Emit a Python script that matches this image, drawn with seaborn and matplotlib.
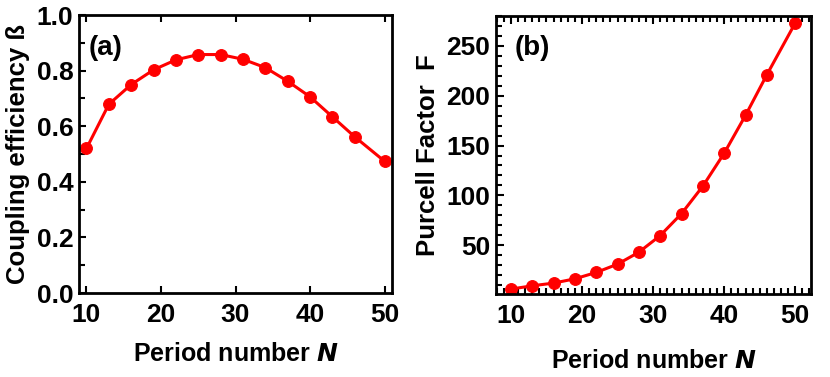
import numpy as np
import pandas as pd
import seaborn as sns
import matplotlib.pyplot as plt
from matplotlib.ticker import MultipleLocator

sns.set_style('ticks')
plt.rcParams['font.family'] = ['Liberation Sans', 'DejaVu Sans']
plt.rcParams['font.weight'] = 'bold'
plt.rcParams['text.color'] = 'black'
plt.rcParams['axes.labelcolor'] = 'black'
plt.rcParams['xtick.color'] = 'black'
plt.rcParams['ytick.color'] = 'black'

# period numbers
N = [10, 13, 16, 19, 22, 25, 28, 31, 34, 37, 40, 43, 46, 50]
# coupling efficiency (a)
beta = [0.52, 0.679, 0.750, 0.803, 0.839, 0.858, 0.858, 0.841, 0.811, 0.762, 0.706, 0.634, 0.562, 0.474]
# purcell factor (b)
purcell = [6, 9.3, 12, 16.3, 22.7, 31, 43, 59.7, 81.7, 109.3, 142.3, 180.3, 221, 273]

df = pd.DataFrame({'N': N, 'beta': beta, 'F': purcell})

fig = plt.figure(figsize=(8.3, 3.77), dpi=100)
ax1 = fig.add_axes([0.0952, 0.2228, 0.3771, 0.7372])
ax2 = fig.add_axes([0.5976, 0.2200, 0.3794, 0.7376])

style = dict(color='red', marker='o', markersize=8.5, linewidth=2.2,
             markeredgecolor='red')

sns.lineplot(data=df, x='N', y='beta', ax=ax1, **style)
sns.lineplot(data=df, x='N', y='F', ax=ax2, **style)

# panel a
ax1.set_xlim(9.0, 51.0)
ax1.set_ylim(0, 1.0)
ax1.xaxis.set_major_locator(MultipleLocator(10))
ax1.yaxis.set_major_locator(MultipleLocator(0.2))
ax1.yaxis.set_minor_locator(MultipleLocator(0.1))
ax1.tick_params(axis='x', which='both', direction='in', top=True, bottom=True, length=5, width=1.5)
ax1.tick_params(axis='y', which='both', direction='in', left=True, right=False, width=1.5)
ax1.tick_params(axis='y', which='major', length=5)
ax1.tick_params(axis='y', which='minor', length=4)
ax1.tick_params(labelsize=19)
ax1.tick_params(axis='x', pad=7)
ax1.tick_params(axis='y', pad=4)
ax1.set_xlabel('Period number $\\boldsymbol{N}$', fontsize=18, fontweight='bold', labelpad=11)
ax1.set_ylabel('Coupling efficiency ß', fontsize=18.5, fontweight='bold', labelpad=5)
ax1.text(0.03, 0.93, '(a)', transform=ax1.transAxes, fontsize=20, fontweight='bold', va='top')

# panel b
ax2.set_xlim(7.9, 52.2)
ax2.set_ylim(1, 280)
ax2.xaxis.set_major_locator(MultipleLocator(10))
ax2.xaxis.set_minor_locator(MultipleLocator(1))
ax2.yaxis.set_major_locator(MultipleLocator(50))
ax2.yaxis.set_minor_locator(MultipleLocator(10))
ax2.tick_params(axis='x', which='both', direction='in', top=True, bottom=True, width=1.5)
ax2.tick_params(axis='y', which='both', direction='in', left=True, right=False, width=1.5)
ax2.tick_params(which='major', length=6)
ax2.tick_params(which='minor', length=4)
ax2.tick_params(labelsize=19)
ax2.tick_params(axis='x', pad=7)
ax2.tick_params(axis='y', pad=4)
ax2.set_xlabel('Period number $\\boldsymbol{N}$', fontsize=18, fontweight='bold', labelpad=15)
ax2.set_ylabel('Purcell Factor  F', fontsize=18.5, fontweight='bold', labelpad=5)
ax2.text(0.06, 0.93, '(b)', transform=ax2.transAxes, fontsize=20, fontweight='bold', va='top')

for ax in (ax1, ax2):
    for sp in ax.spines.values():
        sp.set_linewidth(2)
        sp.set_color('black')
        sp.set_visible(True)
    for lab in ax.get_xticklabels() + ax.get_yticklabels():
        lab.set_fontweight('bold')

fig.savefig('out.png', dpi=100)
